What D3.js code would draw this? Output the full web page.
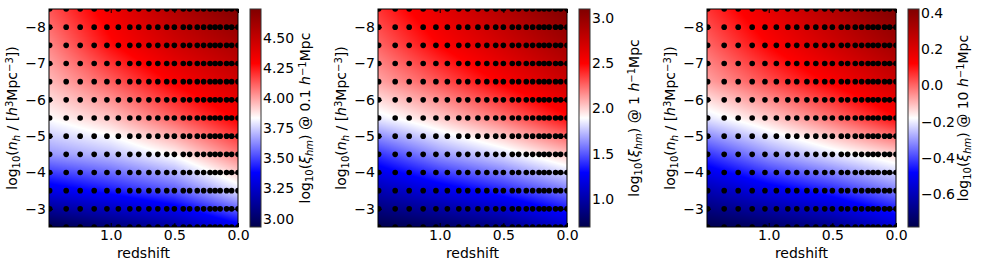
<!DOCTYPE html>
<meta charset="utf-8">

<body style="margin:0;background:#fff">
    <!-- Load d3.js -->
    <script src="https://d3js.org/d3.v7.min.js"></script>

    <div id="chart"></div>

    <script>
        // snapshots (columns of dots) and number density bins (rows of dots)
        var redshifts = [1.48, 1.35, 1.24, 1.13, 1.03, 0.94, 0.85, 0.78, 0.70, 0.63, 0.56,
            0.50, 0.43, 0.38, 0.32, 0.27, 0.22, 0.18, 0.14, 0.09, 0.05, 0.0];
        var logDensities = [-8.5, -8, -7.5, -7, -6.5, -6, -5.5, -5, -4.5, -4, -3.5, -3, -2.5];

        // colour field on a coarse grid
        var fieldZ = [1.48, 1.0, 0.5, 0.0];
        var fieldN = [-8.5, -7.5, -6.5, -5.5, -4.5, -3.5, -2.5];
        // rows = fieldN, columns = fieldZ
        var xi01 = [
            [4.14, 4.34, 4.56, 4.74],
            [4.05, 4.27, 4.45, 4.59],
            [3.96, 4.12, 4.30, 4.45],
            [3.84, 3.94, 4.12, 4.30],
            [3.65, 3.72, 3.85, 4.07],
            [3.32, 3.42, 3.54, 3.78],
            [2.93, 3.03, 3.14, 3.34]
        ];
        var xi1 = [
            [2.38, 2.62, 2.86, 3.10],
            [2.26, 2.50, 2.71, 2.93],
            [2.11, 2.30, 2.52, 2.74],
            [1.85, 2.02, 2.23, 2.47],
            [1.41, 1.65, 1.82, 2.04],
            [1.03, 1.20, 1.37, 1.58],
            [0.69, 0.76, 0.88, 1.12]
        ];
        var xi10 = [
            [0.06, 0.18, 0.30, 0.42],
            [0.00, 0.12, 0.23, 0.34],
            [-0.07, 0.03, 0.13, 0.24],
            [-0.21, -0.12, -0.01, 0.11],
            [-0.42, -0.30, -0.21, -0.13],
            [-0.61, -0.52, -0.44, -0.33],
            [-0.78, -0.74, -0.68, -0.56]
        ];

        var xTicks = [1.0, 0.5, 0.0];
        var yTicks = [-8, -7, -6, -5, -4, -3];
        var cbTicks01 = [3.00, 3.25, 3.50, 3.75, 4.00, 4.25, 4.50];
        var cbTicks1 = [1.0, 1.5, 2.0, 2.5, 3.0];
        var cbTicks10 = [-0.6, -0.4, -0.2, 0.0, 0.2, 0.4];

        var panels = [
            { field: xi01, ticks: cbTicks01, fmt: ".2f", scale: "0.1" },
            { field: xi1, ticks: cbTicks1, fmt: ".1f", scale: "1" },
            { field: xi10, ticks: cbTicks10, fmt: ".1f", scale: "10" }
        ];

        var width = 981, height = 266;
        var mtop = 9, ph = 218, pw = 189;
        var lefts = [49, 378, 707];
        var font = "'DejaVu Sans', sans-serif";

        // matplotlib "seismic"
        var seismic = ["rgb(0,0,77)", "rgb(0,0,255)", "rgb(255,255,255)", "rgb(255,0,0)", "rgb(128,0,0)"];

        var svg = d3.select("div#chart")
            .append("svg")
            .attr("width", width)
            .attr("height", height)
            .style("font-family", font)
            .style("font-size", "14px");

        var defs = svg.append("defs");

        panels.forEach(function (p, k) {
            var left = lefts[k];
            var g = svg.append("g");

            var x = d3.scaleLinear().domain([1.485, 0]).range([left, left + pw]);
            var y = d3.scaleLinear().domain([-8.5, -2.5]).range([mtop, mtop + ph]);

            var ext = d3.extent(p.field.flat());
            var norm = d3.scaleLinear().domain(ext).range([0, 1]).clamp(true);
            var cmap = d3.scaleLinear().domain([0, 0.25, 0.5, 0.75, 1]).range(seismic)
                .interpolate(d3.interpolateRgb);

            // heat map: bilinear on the coarse grid, painted into a canvas
            var fz = d3.scaleLinear().domain(fieldZ).range(d3.range(fieldZ.length)).clamp(true);
            var fn = d3.scaleLinear().domain(fieldN).range(d3.range(fieldN.length)).clamp(true);
            var canvas = document.createElement("canvas");
            canvas.width = pw; canvas.height = ph;
            var ctx = canvas.getContext("2d");
            var img = ctx.createImageData(pw, ph);
            for (var py = 0; py < ph; py++) {
                var rn = fn(y.invert(mtop + py + 0.5));
                var r0 = Math.min(Math.floor(rn), fieldN.length - 2), ty = rn - r0;
                for (var px = 0; px < pw; px++) {
                    var cz = fz(x.invert(left + px + 0.5));
                    var c0 = Math.min(Math.floor(cz), fieldZ.length - 2), tx = cz - c0;
                    var v = (p.field[r0][c0] * (1 - tx) + p.field[r0][c0 + 1] * tx) * (1 - ty)
                        + (p.field[r0 + 1][c0] * (1 - tx) + p.field[r0 + 1][c0 + 1] * tx) * ty;
                    var c = d3.rgb(cmap(norm(v)));
                    var i = (py * pw + px) * 4;
                    img.data[i] = c.r; img.data[i + 1] = c.g; img.data[i + 2] = c.b; img.data[i + 3] = 255;
                }
            }
            ctx.putImageData(img, 0, 0);
            g.append("image")
                .attr("href", canvas.toDataURL())
                .attr("x", left).attr("y", mtop)
                .attr("width", pw).attr("height", ph)
                .attr("preserveAspectRatio", "none");

            // dots, clipped to the axes
            defs.append("clipPath").attr("id", "clip" + k)
                .append("rect").attr("x", left).attr("y", mtop).attr("width", pw).attr("height", ph);
            var pts = [];
            logDensities.forEach(function (n) {
                redshifts.forEach(function (z) { pts.push([z, n]); });
            });
            g.append("g").attr("clip-path", "url(#clip" + k + ")")
                .selectAll("circle")
                .data(pts)
                .join("circle")
                .attr("cx", d => x(d[0]))
                .attr("cy", d => y(d[1]))
                .attr("r", 2.8)
                .attr("fill", "black");

            // axes, ticks pointing in (classic style)
            var ax = g.append("g").attr("transform", `translate(0,${mtop + ph})`)
                .call(d3.axisBottom(x).tickValues(xTicks).tickFormat(d3.format(".1f"))
                    .tickSizeInner(-4).tickSizeOuter(0).tickPadding(3));
            var axTop = g.append("g").attr("transform", `translate(0,${mtop})`)
                .call(d3.axisTop(x).tickValues(xTicks).tickFormat("").tickSizeInner(-4).tickSizeOuter(0));
            var ay = g.append("g").attr("transform", `translate(${left},0)`)
                .call(d3.axisLeft(y).tickValues(yTicks).tickFormat(d3.format("d"))
                    .tickSizeInner(-4).tickSizeOuter(0).tickPadding(3));
            var ayR = g.append("g").attr("transform", `translate(${left + pw},0)`)
                .call(d3.axisRight(y).tickValues(yTicks).tickFormat("").tickSizeInner(-4).tickSizeOuter(0));
            [ax, axTop, ay, ayR].forEach(function (a) {
                a.select(".domain").remove();
                a.selectAll("text").attr("font-size", 14).attr("font-family", font).attr("fill", "black");
            });

            g.append("rect")
                .attr("x", left).attr("y", mtop).attr("width", pw).attr("height", ph)
                .attr("fill", "none").attr("stroke", "black").attr("stroke-width", 1);

            g.append("text")
                .attr("x", left + pw / 2).attr("y", 258)
                .attr("text-anchor", "middle")
                .text("redshift");

            var yl = g.append("text")
                .attr("transform", `translate(${left - 32},${mtop + ph / 2}) rotate(-90)`)
                .attr("text-anchor", "middle");
            yl.append("tspan").text("log");
            yl.append("tspan").attr("baseline-shift", "-25%").attr("font-size", 10).text("10");
            yl.append("tspan").text("(");
            yl.append("tspan").attr("font-style", "italic").text("n");
            yl.append("tspan").attr("baseline-shift", "-25%").attr("font-size", 10).attr("font-style", "italic").text("h");
            yl.append("tspan").text(" / [");
            yl.append("tspan").attr("font-style", "italic").text("h");
            yl.append("tspan").attr("baseline-shift", "45%").attr("font-size", 10).text("3");
            yl.append("tspan").text("Mpc");
            yl.append("tspan").attr("baseline-shift", "45%").attr("font-size", 10).text("\u22123");
            yl.append("tspan").text("])");

            // colour bar
            var cbx = left + 201, cbw = 11;
            var grad = defs.append("linearGradient").attr("id", "grad" + k)
                .attr("x1", 0).attr("y1", 1).attr("x2", 0).attr("y2", 0);
            seismic.forEach(function (col, j) {
                grad.append("stop").attr("offset", j / 4).attr("stop-color", col);
            });
            g.append("rect")
                .attr("x", cbx).attr("y", mtop).attr("width", cbw).attr("height", ph)
                .attr("fill", "url(#grad" + k + ")")
                .attr("stroke", "#333").attr("stroke-width", 1);

            var cy = d3.scaleLinear().domain(ext).range([mtop + ph, mtop]);
            var acb = g.append("g").attr("transform", `translate(${cbx + cbw},0)`)
                .call(d3.axisRight(cy).tickValues(p.ticks).tickFormat(d3.format(p.fmt))
                    .tickSizeInner(0).tickSizeOuter(0).tickPadding(2));
            acb.select(".domain").remove();
            acb.selectAll("text").attr("font-size", 14).attr("font-family", font).attr("fill", "black");

            var cl = g.append("text")
                .attr("transform", `translate(${left + 261},${mtop + ph / 2}) rotate(-90)`)
                .attr("text-anchor", "middle");
            cl.append("tspan").text("log");
            cl.append("tspan").attr("baseline-shift", "-25%").attr("font-size", 10).text("10");
            cl.append("tspan").text("(");
            cl.append("tspan").attr("font-style", "italic").text("\u03be");
            cl.append("tspan").attr("baseline-shift", "-25%").attr("font-size", 10).attr("font-style", "italic").text("hm");
            cl.append("tspan").text(") @ " + p.scale + " ");
            cl.append("tspan").attr("font-style", "italic").text("h");
            cl.append("tspan").attr("baseline-shift", "45%").attr("font-size", 10).text("\u22121");
            cl.append("tspan").text("Mpc");
        });
    </script>
</body>
